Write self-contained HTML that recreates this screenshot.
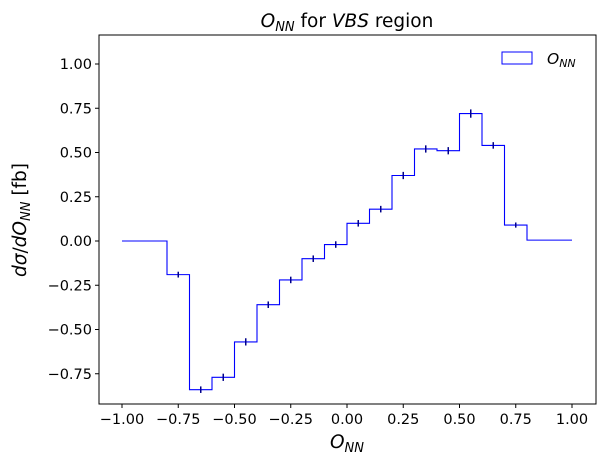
<!DOCTYPE html>
<html><head><meta charset="utf-8">
<style>
body{margin:0;background:#fff;}
svg text{font-family:"DejaVu Sans","Liberation Sans",sans-serif;}
</style></head>
<body>
<svg id="chart" width="604" height="466" xmlns="http://www.w3.org/2000/svg">
<rect width="604" height="466" fill="#fff"/>
<g id="plot"></g>
</svg>
<script>
const binEdges=[-1.0,-0.9,-0.8,-0.7,-0.6,-0.5,-0.4,-0.3,-0.2,-0.1,0.0,0.1,0.2,0.3,0.4,0.5,0.6,0.7,0.8,0.9,1.0];
const values=[0,0,-0.19,-0.84,-0.77,-0.57,-0.36,-0.22,-0.10,-0.02,0.10,0.18,0.37,0.52,0.51,0.72,0.54,0.09,0.005,0.005];
const errors=[0,0,0.008,0.01,0.012,0.012,0.01,0.01,0.01,0.01,0.01,0.01,0.012,0.012,0.012,0.015,0.01,0.006,0,0];
const xTicks=[-1.0,-0.75,-0.5,-0.25,0,0.25,0.5,0.75,1.0];
const xTickLabels=["\u22121.00","\u22120.75","\u22120.50","\u22120.25","0.00","0.25","0.50","0.75","1.00"];
const yTicks=[1.0,0.75,0.5,0.25,0,-0.25,-0.5,-0.75];
const yTickLabels=["1.00","0.75","0.50","0.25","0.00","\u22120.25","\u22120.50","\u22120.75"];

const L=99,R=596,T=35,B=404;
const xs=v=>122+(v+1)*225;
const ys=v=>241-v*177;
const NS="http://www.w3.org/2000/svg";
const g=document.getElementById('plot');
function mk(tag,attrs,parent){const e=document.createElementNS(NS,tag);for(const k in attrs)e.setAttribute(k,attrs[k]);(parent||g).appendChild(e);return e;}

let d="";
values.forEach((v,i)=>{
  const x0=xs(binEdges[i]),x1=xs(binEdges[i+1]),y=ys(v);
  d+=(i===0?"M":"L")+x0+","+y+"L"+x1+","+y;
});
const step=mk('path',{d:d,fill:"none",stroke:"#0000ff","stroke-width":1.1});



values.forEach((v,i)=>{
  if(errors[i]<=0) return;
  const xc=xs((binEdges[i]+binEdges[i+1])/2);
  const e=mk('line',{x1:xc,x2:xc,y1:ys(v+errors[i])-1.5,y2:ys(v-errors[i])+1.5,stroke:"#00008b","stroke-width":1.5});
  
  
});

const frame=mk('rect',{x:L,y:T,width:R-L,height:B-T,fill:"none",stroke:"#000","stroke-width":1});



xTicks.forEach((t,i)=>{
  const x=xs(t);
  mk('line',{x1:x,x2:x,y1:B,y2:B+4,stroke:"#000"});
  const tx=mk('text',{x:x,y:B+20,"text-anchor":"middle","font-size":14.5});
  tx.textContent=xTickLabels[i];
  
  
});
yTicks.forEach((t,i)=>{
  const y=ys(t);
  mk('line',{x1:L-4,x2:L,y1:y,y2:y,stroke:"#000"});
  const tx=mk('text',{x:L-7,y:y+5,"text-anchor":"end","font-size":14.5});
  tx.textContent=yTickLabels[i];
  
  
});
</script>
<svg style="position:absolute;left:0;top:0" width="604" height="466" xmlns="http://www.w3.org/2000/svg">
<text x="347" y="27" text-anchor="middle" font-size="18.5" font-family="DejaVu Sans, sans-serif"><tspan font-style="italic">O</tspan><tspan font-style="italic" font-size="13" dy="4">NN</tspan><tspan dy="-4"> for </tspan><tspan font-style="italic">VBS</tspan><tspan> region</tspan></text>
<text x="347" y="448" text-anchor="middle" font-size="18.5" font-family="DejaVu Sans, sans-serif"><tspan font-style="italic">O</tspan><tspan font-style="italic" font-size="13" dy="4">NN</tspan></text>
<text transform="translate(26,220) rotate(-90)" text-anchor="middle" font-size="18.5" font-family="DejaVu Sans, sans-serif"><tspan font-style="italic">dσ</tspan><tspan>/</tspan><tspan font-style="italic">dO</tspan><tspan font-style="italic" font-size="13" dy="4">NN</tspan><tspan dy="-4"> [fb]</tspan></text>
<g>
<rect x="502" y="52" width="30" height="12" fill="none" stroke="#0000ff" stroke-width="1"/>
<text x="547" y="64" font-size="15.5" font-style="italic" font-family="DejaVu Sans, sans-serif">O<tspan font-size="11" dy="3">NN</tspan></text>
</g>
</svg>
</body></html>
